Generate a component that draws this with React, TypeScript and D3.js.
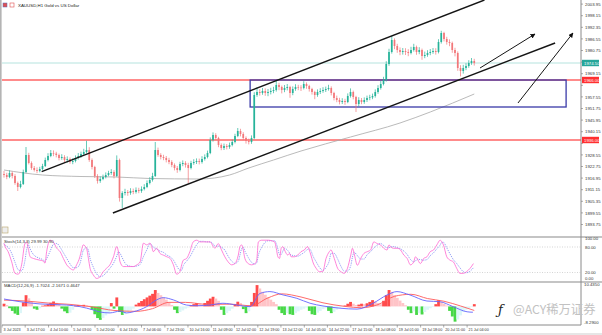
import React from "react";
import * as d3 from "d3";

const W = 602;
const H = 335;

// ---------- price data (H1 candles, sampled) ----------
const firstOpen = 1919;
const closes = [
  1918.5,1917.5,1919.5,1918,1914.5,1912.5,1914,1920,1928.5,1924.5,
  1922,1921,1920.5,1921.5,1923,1926,1928,1929.5,1929.2,1928.5,
  1927,1927.5,1926,1926.5,1925,1925.5,1927,1928,1929,1930,
  1931,1926,1922.5,1918,1915.5,1916.5,1917.5,1918.5,1919.5,1920,
  1918,1926,1907,1909.5,1910,1909.5,1910.5,1910,1911,1910.5,
  1911.5,1912.5,1914.5,1916,1918,1931,1928.5,1927.5,1927,1926,
  1925,1923.5,1922,1921,1924,1924.5,1923.5,1922,1924.5,1925,
  1925.5,1925,1926.5,1927.5,1929.5,1936,1938.5,1937,1933.5,1932,
  1933,1932.5,1933.5,1935,1938,1940.5,1939,1937,1935.5,1935,
  1937,1958.5,1960,1959.5,1960.5,1959.5,1960,1960.5,1961,1963.5,
  1962.5,1961,1962,1962.5,1959.5,1961.5,1962.5,1962.2,1962,1964,
  1963,1961.5,1960,1958.5,1960,1960.5,1961,1961.5,1962,1959.5,
  1957,1956,1955,1955.5,1955,1958,1960,1957.5,1954,1956,
  1955,1956,1957,1957.3,1958,1960,1962,1964,1966,1974,
  1980,1986,1983,1981,1980,1980.5,1980,1979.5,1981,1982.5,
  1980,1981,1978,1978.5,1979.5,1980,1980.5,1980,1985,1989.5,
  1986.5,1985,1984.5,1981,1979.5,1972,1970.5,1972,1973,1974.5,
  1975.5,1974.5,
];
const highs = [
  1920.5,1919.6,1920.8,1920.2,1918.9,1915.2,1915.6,1921.2,1932.5,1929.6,
  1925.3,1923.0,1922.3,1922.6,1924.1,1927.2,1929.4,1931.0,1930.8,1930.1,
  1929.2,1928.9,1928.4,1927.8,1927.3,1926.9,1928.3,1929.5,1930.2,1931.6,
  1935.6,1932.4,1926.8,1923.1,1918.9,1917.8,1918.7,1919.8,1920.6,1921.4,
  1920.9,1928.3,1926.7,1910.4,1911.6,1911.0,1911.9,1911.7,1912.3,1912.1,
  1912.8,1913.9,1915.8,1917.4,1919.6,1935.0,1932.2,1929.4,1928.6,1928.0,
  1927.1,1925.9,1924.3,1923.0,1925.1,1925.8,1925.4,1924.6,1925.6,1926.4,
  1926.8,1926.7,1927.9,1928.8,1930.7,1937.3,1939.8,1939.4,1937.6,1934.3,
  1934.2,1934.0,1934.7,1936.2,1939.1,1942.0,1941.6,1939.9,1937.8,1936.7,
  1938.3,1959.9,1962.3,1961.4,1962.0,1961.8,1961.5,1962.1,1962.6,1965.8,
  1964.6,1963.2,1963.5,1964.0,1963.1,1962.8,1963.9,1963.6,1963.4,1965.4,
  1964.8,1963.6,1962.1,1960.6,1961.3,1961.9,1962.4,1962.7,1963.6,1962.8,
  1960.1,1958.2,1957.1,1956.9,1956.6,1959.3,1961.8,1960.7,1958.1,1957.4,
  1957.0,1957.3,1958.2,1958.6,1959.2,1961.3,1963.4,1965.5,1967.6,1975.4,
  1981.6,1988.0,1986.8,1984.1,1982.3,1982.0,1981.9,1981.4,1982.6,1984.1,
  1983.2,1982.4,1981.7,1980.2,1980.9,1981.5,1982.0,1981.9,1986.4,1990.6,
  1990.1,1987.6,1986.3,1985.2,1982.1,1980.3,1973.4,1973.6,1974.4,1975.9,
  1977.0,1976.6,
];
const lows = [
  1917.2,1916.4,1916.9,1916.8,1913.6,1910.5,1911.8,1913.5,1919.4,1923.8,
  1921.1,1920.2,1919.4,1919.8,1920.9,1922.5,1925.3,1927.4,1927.9,1927.3,
  1925.8,1926.1,1925.0,1924.7,1924.1,1923.9,1924.8,1926.2,1927.1,1928.4,
  1929.3,1925.1,1921.3,1917.0,1914.2,1914.6,1915.9,1916.8,1917.9,1918.6,
  1916.8,1917.4,1905.2,1902.0,1908.3,1908.1,1908.6,1908.9,1909.2,1909.4,
  1909.6,1910.8,1911.9,1913.8,1915.2,1917.5,1927.6,1926.3,1925.9,1924.8,
  1923.9,1922.4,1920.8,1919.6,1920.3,1922.9,1922.2,1914.5,1921.3,1923.6,
  1924.0,1923.8,1924.2,1925.7,1926.8,1928.9,1935.2,1936.0,1932.4,1930.9,
  1931.0,1931.3,1931.6,1932.8,1934.3,1937.4,1937.8,1935.9,1934.2,1933.8,
  1934.1,1936.4,1957.6,1958.2,1958.6,1958.1,1957.9,1958.8,1959.4,1960.2,
  1960.9,1959.3,1959.9,1960.8,1957.1,1958.4,1960.6,1960.9,1960.5,1961.3,
  1961.6,1960.2,1958.7,1956.4,1957.6,1959.0,1959.6,1960.0,1960.7,1958.3,
  1955.8,1954.9,1953.8,1954.0,1953.6,1954.4,1957.2,1956.3,1950.0,1952.8,
  1953.9,1954.1,1955.0,1955.9,1956.4,1957.2,1959.1,1961.2,1963.3,1965.2,
  1973.1,1979.2,1981.4,1979.6,1978.4,1978.7,1978.5,1977.9,1978.8,1980.2,
  1978.6,1978.9,1976.1,1976.9,1977.6,1978.4,1979.1,1978.7,1979.3,1984.2,
  1985.3,1983.7,1982.9,1979.6,1977.8,1970.6,1967.8,1969.2,1970.9,1972.1,
  1973.6,1973.2,
];

// slow moving average: [bar index, price]
const maPoints = [
  [0, 1921], [14, 1918.5], [28, 1917.75], [41, 1917.5], [53, 1916.75],
  [71, 1916.5], [82, 1918.5], [89, 1922], [98, 1926], [108, 1930.5],
  [126, 1937.5], [144, 1944.5], [155, 1950], [171, 1959],
];

// drawn objects (bar index, price)
const resistanceLevels = [1966, 1936];
const zoneBox = { i0: 89.5, i1: 204.4, p0: 1966, p1: 1952.5 };
const channelUpper = [[13.7, 1920.15], [174.7, 2006]];
const channelLower = [[39.6, 1899.5], [200.4, 1984.5]];
const arrowLines = [
  [[173.1, 1972], [193.1, 1989]],
  [[186.9, 1954.5], [206.9, 1989.5]],
];

const priceTicks = [
  2003.95, 1998.15, 1992.35, 1986.55, 1980.75, 1974.95, 1969.15, 1963.35,
  1957.55, 1951.75, 1945.95, 1940.15, 1934.35, 1928.55, 1922.75, 1916.95,
  1911.15, 1905.35, 1899.55, 1893.75,
];

const timeLabels = [
  "3 Jul 2023", "3 Jul 17:00", "4 Jul 10:00", "5 Jul 03:00", "5 Jul 20:00",
  "6 Jul 13:00", "7 Jul 06:00", "7 Jul 23:00", "10 Jul 16:00", "11 Jul 09:00",
  "12 Jul 02:00", "12 Jul 19:00", "13 Jul 12:00", "14 Jul 05:00", "14 Jul 22:00",
  "17 Jul 15:00", "18 Jul 08:00", "19 Jul 01:00", "19 Jul 18:00", "20 Jul 11:00",
  "21 Jul 04:00",
];
const timeTickIdx = [
  -0.7, 7.7, 16.2, 24.6, 33.1, 41.5, 50, 58.5, 66.9, 75.4, 83.8, 92.3, 100.7,
  109.2, 117.6, 126.1, 134.5, 143, 151.5, 159.9, 168.4,
];

// Stochastic %K: [bar index, value]
const stochK = [
  [0, 88], [0.4, 81], [1.5, 69], [2.8, 45], [4, 18], [5.2, 16], [6.4, 38], [7.6, 88],
  [8.2, 92], [8.8, 77], [9.5, 57], [10.7, 53], [13.1, 49], [14.3, 47], [14.9, 42],
  [15.5, 69], [16.7, 96], [17.9, 92], [19.2, 77], [20.4, 69], [21.6, 53], [22.8, 38],
  [24, 30], [25.2, 26], [26.4, 38], [27.6, 57], [28.2, 73], [28.8, 85], [30, 77],
  [30.7, 53], [31.3, 30], [32.5, 14], [33.7, 6], [34.9, 10], [36.1, 22], [37.3, 30],
  [38.5, 38], [39.8, 57], [41, 81], [41.6, 69], [42.2, 45], [43.4, 34], [44.6, 34],
  [47, 34], [48.3, 38], [49.5, 45], [50.7, 89], [51.9, 85], [53.1, 89], [53.7, 81],
  [54.3, 69], [55.5, 77], [56.7, 65], [57.9, 61], [59.2, 57], [60.4, 53], [61.6, 38],
  [62.8, 16], [64, 22], [64.6, 38], [65.2, 49], [66.4, 53], [67.6, 69], [68.8, 92],
  [70.1, 96], [71.3, 92], [72.5, 92], [73.7, 92], [74.9, 92], [75.5, 88], [76.1, 81],
  [76.7, 77], [77.9, 88], [79.1, 73], [80.3, 57], [81.5, 45], [82.8, 38], [84, 41],
  [85.2, 61], [85.8, 81], [86.4, 85], [87, 73], [87.6, 53], [88.8, 41], [90, 38],
  [91.3, 41], [91.9, 49], [92.5, 92], [93.7, 96], [96, 96], [98.4, 92], [99, 77],
  [99.6, 57], [100.2, 53], [100.8, 77], [101.4, 81], [102, 73], [103.2, 61],
  [103.8, 65], [104.4, 57], [105.6, 57], [106.8, 61], [108, 69], [109.2, 73],
  [110.4, 81], [111, 73], [111.6, 61], [112.3, 45], [113.5, 30], [114.7, 22],
  [115.9, 22], [117.1, 53], [118.3, 69], [118.9, 73], [120.1, 53], [121.3, 30],
  [122.5, 22], [123.7, 18], [124.9, 30], [126.1, 61], [126.7, 77], [127.3, 65],
  [128.5, 37], [129.7, 53], [130.9, 65], [132.1, 69], [133.3, 73], [134.5, 92],
  [135.7, 88], [136.9, 85], [138.1, 77], [139.3, 73], [140, 85], [140.5, 81],
  [141.7, 77], [143, 77], [144.2, 73], [145.4, 61], [146.6, 53], [147.8, 38],
  [149, 45], [149.6, 57], [150.2, 53], [151.4, 41], [152.6, 53], [153.8, 57],
  [155, 69], [156.2, 73], [157.4, 85], [158.6, 96], [159.2, 92], [159.8, 85],
  [161, 57], [162.2, 49], [163.4, 45], [164.6, 30], [165.8, 18], [167, 18],
  [168.2, 22], [169.5, 30], [170.7, 41],
];

// MACD histogram per bar
const macdHist = [
  1.2, 0.6, -0.8, -2.0, -3.2, -3.8, -3.0, 1.8, 5.0, 3.6,
  2.0, -1.0, -1.5, -0.8, 0.3, 0.5, 1.0, 1.6, 2.2, 1.6,
  1.0, -1.0, -2.2, -3.0, -2.8, -1.5, 0.4, 0.6, 0.5, 0.7,
  0.5, 0.3, -1.5, -3.5, -5.2, -6.0, -5.2, -4.0, -3.0, 1.5,
  -1.0, 4.0, -2.5, -3.8, -3.5, -2.5, -1.8, -1.0, 0.8, 1.6,
  2.4, 3.2, 4.0, 4.8, 5.6, 7.3, 6.0, 5.0, 4.0, 3.0,
  1.8, 0.6, -1.5, -3.0, -2.5, -1.8, -1.0, -0.5, 0.5, 1.0,
  1.5, 1.0, 0.6, 1.5, 2.5, 3.5, 4.3, 3.5, 2.5, -1.5,
  -3.8, -3.0, -2.0, -1.0, 0.8, 2.1, 1.5, -1.2, -3.0, -2.2,
  2.0, 6.0, 9.5, 8.0, 6.5, 5.2, 4.0, 3.0, 2.0, 1.0,
  -1.5, -3.0, -3.8, -3.0, -3.5, -3.8, -3.0, -2.2, -1.5, -1.0,
  -0.5, -2.0, -3.5, -3.8, -2.8, -2.0, -1.2, -0.8, -2.0, -3.0,
  -2.4, -1.5, -0.6, -0.3, 0.4, 1.2, 2.0, 1.2, 0.6, 0.8,
  1.2, 1.0, 1.4, 2.0, 2.8, 2.2, 1.5, 1.0, 2.5, 5.0,
  7.3, 6.5, 5.0, 3.8, 2.6, 1.5, 0.5, -1.5, -3.0, -2.2,
  -3.8, -3.0, -3.6, -2.5, -1.5, -0.8, -0.3, 1.0, 2.8, 2.0,
  1.2, 0.4, -2.0, -4.5, -6.8, -5.8, -4.0, -2.5, -1.5, -0.8,
  -0.3, 1.0,
];
const macdMain = [
  [0, 3.3], [5.8, 2.1], [13.1, 1.1], [22.8, 0.6], [27.6, -0.1], [32.5, -1.6],
  [34.9, -2.5], [38.5, -2.9], [42.2, -2.1], [44.6, -2.9], [47, -2.4], [51.9, -0.1],
  [55.5, 2.9], [57.9, 3.9], [61.6, 2.9], [66.4, 0.6], [70.2, 0.3], [74.9, 0.6],
  [79.6, 1.4], [84.7, 0.6], [89.5, -0.1], [93.1, 5.8], [96.7, 6.6], [101.5, 5.1],
  [106.5, 3.6], [111.3, 1.4], [116, 0.2], [122.2, -0.8], [128.4, -1.2], [134.2, 1.4],
  [139.3, 5.1], [142.9, 6.6], [147.6, 5.1], [153.8, 2.4], [158.5, 2.1], [163.3, -0.1],
  [168.4, -2.4], [170.5, -2.6],
];
const macdSignal = [
  [0, 2.8], [8, 2.4], [16, 1.5], [24, 0.9], [32, -0.2], [40, -1.8], [48, -2.2],
  [54, -1.0], [60, 1.8], [66, 1.8], [74, 0.9], [82, 1.0], [90, 0.3], [96, 3.8],
  [101, 5.6], [108, 4.2], [116, 1.6], [124, 0.0], [130, -0.6], [136, 0.8],
  [142, 4.5], [148, 5.4], [154, 3.5], [160, 2.3], [166, 0.2], [171, -1.8],
];

const FONT = "'Liberation Sans', Arial, sans-serif";
const UP = "#26b39a";
const DOWN = "#f2777a";

export default function App() {
  const x = d3.scaleLinear().domain([0, 210]).range([4, 581.5]);
  const y = d3.scaleLinear().domain([1891, 2006]).range([230, 0]);
  const yS = d3.scaleLinear().domain([0, 100]).range([281, 238.5]);
  const yM = d3.scaleLinear().domain([-8.29, 10.435]).range([325, 283]);

  const opens = [firstOpen, ...closes.slice(0, -1)];
  const step = x(1) - x(0);
  const bodyW = 1.7;

  const maLine = d3
    .line<number[]>()
    .x((d) => x(d[0]))
    .y((d) => y(d[1]))
    .curve(d3.curveMonotoneX);
  const stLine = d3
    .line<number[]>()
    .x((d) => x(d[0]))
    .y((d) => yS(d[1]))
    .curve(d3.curveMonotoneX);
  const mLine = d3
    .line<number[]>()
    .x((d) => x(d[0]))
    .y((d) => yM(d[1]))
    .curve(d3.curveMonotoneX);

  // %D signal = 3-sample mean of %K
  const stochD = stochK.map((d, i) => {
    const w = stochK.slice(Math.max(0, i - 2), i + 1);
    return [d[0], d3.mean(w, (v) => v[1]) as number];
  });

  const lastClose = closes[closes.length - 1];
  const axisX = 581;

  // labels covered by the coloured price tags are not drawn
  const tagYs = [...resistanceLevels, lastClose].map((p) => y(p));
  const visibleTicks = priceTicks.filter((p) => tagYs.every((ty) => Math.abs(y(p) - ty) > 5.5));

  const histColor = (v: number, i: number) => {
    const prev = i > 0 ? macdHist[i - 1] : v;
    if (v >= 0) return v >= prev ? "#ff4b4b" : "#ffc4c8";
    return v <= prev ? "#47d847" : "#dcf6f8";
  };

  return (
    <svg
      width={W}
      height={H}
      style={{ position: "absolute", left: 0, top: 0, background: "#fff" }}
      fontFamily={FONT}
    >
      <defs>
        <clipPath id="mainClip">
          <rect x={2} y={0} width={axisX - 2} height={237} />
        </clipPath>
        <clipPath id="subClip">
          <rect x={2} y={237} width={axisX - 2} height={88} />
        </clipPath>
        <marker
          id="arrowHead"
          viewBox="0 0 10 10"
          refX={9}
          refY={5}
          markerWidth={5}
          markerHeight={5}
          orient="auto"
        >
          <path d="M0,0 L10,5 L0,10 Z" fill="#111" />
        </marker>
      </defs>

      <rect x={0} y={0} width={W} height={H} fill="#fff" />

      {/* ---------- main panel ---------- */}
      <g clipPath="url(#mainClip)">
        <line x1={2} x2={axisX} y1={y(lastClose)} y2={y(lastClose)} stroke="#b5e3de" strokeWidth={1} />
        {resistanceLevels.map((p) => (
          <line key={p} x1={2} x2={axisX} y1={y(p)} y2={y(p)} stroke="#ff6464" strokeWidth={1.3} />
        ))}
        <path d={maLine(maPoints) || ""} fill="none" stroke="#a8a8a8" strokeWidth={0.8} />
        <rect
          x={x(zoneBox.i0)}
          y={y(zoneBox.p0)}
          width={x(zoneBox.i1) - x(zoneBox.i0)}
          height={y(zoneBox.p1) - y(zoneBox.p0)}
          fill="none"
          stroke="#3a3aa8"
          strokeWidth={1.3}
        />
        {closes.map((c, i) => {
          const o = opens[i];
          const col = c >= o ? UP : DOWN;
          const cx = x(i);
          const top = y(Math.max(o, c));
          const bot = y(Math.min(o, c));
          return (
            <g key={i}>
              <line x1={cx} x2={cx} y1={y(highs[i])} y2={y(lows[i])} stroke={col} strokeWidth={0.7} />
              <rect x={cx - bodyW / 2} y={top} width={bodyW} height={Math.max(0.6, bot - top)} fill={col} />
            </g>
          );
        })}
        {[channelUpper, channelLower].map((l, k) => (
          <line
            key={k}
            x1={x(l[0][0])}
            y1={y(l[0][1])}
            x2={x(l[1][0])}
            y2={y(l[1][1])}
            stroke="#151515"
            strokeWidth={1.4}
          />
        ))}
        {arrowLines.map((l, k) => (
          <line
            key={k}
            x1={x(l[0][0])}
            y1={y(l[0][1])}
            x2={x(l[1][0])}
            y2={y(l[1][1])}
            stroke="#151515"
            strokeWidth={1}
            markerEnd="url(#arrowHead)"
          />
        ))}
      </g>

      {/* title */}
      <rect x={3} y={3} width={4} height={4} fill="#e05050" stroke="#5070c0" strokeWidth={0.5} />
      <rect x={10} y={3} width={4} height={4} fill="#fff" stroke="#e05050" strokeWidth={0.6} />
      <text x={18} y={7} fontSize={4.4} fill="#222">
        XAUUSD,H1  Gold vs US Dollar
      </text>

      {/* price axis */}
      <line x1={axisX} x2={axisX} y1={0} y2={325} stroke="#8a8a8a" strokeWidth={1} />
      {priceTicks.map((p) => (
        <line key={"t" + p} x1={axisX} x2={axisX + 2} y1={y(p)} y2={y(p)} stroke="#777" strokeWidth={0.6} />
      ))}
      {visibleTicks.map((p) => (
        <text key={p} x={axisX + 4} y={y(p) + 1.6} fontSize={4.3} fill="#333">
          {p.toFixed(2)}
        </text>
      ))}
      {resistanceLevels.map((p) => (
        <g key={"l" + p}>
          <rect x={axisX + 1} y={y(p) - 3.2} width={17} height={6.4} fill="#ff3030" />
          <text x={axisX + 3} y={y(p) + 1.6} fontSize={4.3} fill="#fff">
            {p.toFixed(2)}
          </text>
        </g>
      ))}
      <rect x={axisX + 1} y={y(lastClose) - 3.2} width={17} height={6.4} fill="#26a69a" />
      <text x={axisX + 3} y={y(lastClose) + 1.6} fontSize={4.3} fill="#fff">
        {lastClose.toFixed(2)}
      </text>

      {/* one-click box */}
      <rect x={2} y={227} width={6} height={6} fill="#eeeeee" stroke="#b8a468" strokeWidth={0.6} />

      {/* panel separators */}
      <line x1={2} x2={W} y1={237} y2={237} stroke="#8a8a8a" strokeWidth={1.2} />
      <line x1={2} x2={W} y1={282} y2={282} stroke="#8a8a8a" strokeWidth={1.2} />

      {/* ---------- stochastic ---------- */}
      <g clipPath="url(#subClip)">
        {[80, 20].map((v) => (
          <line key={v} x1={2} x2={axisX} y1={yS(v)} y2={yS(v)} stroke="#b8b8b8" strokeWidth={0.6} strokeDasharray="1,1.5" />
        ))}
        <path d={stLine(stochD) || ""} fill="none" stroke="#7a86f4" strokeWidth={0.8} strokeDasharray="1.2,1" />
        <path d={stLine(stochK) || ""} fill="none" stroke="#ff66d0" strokeWidth={0.8} />
      </g>
      <text x={4} y={242.5} fontSize={4.3} fill="#333">
        Stoch(14,3,3) 29.99 30.90
      </text>
      {[100, 80, 20, 0].map((v) => (
        <text key={v} x={axisX + 4} y={Math.min(279.5, yS(v) + 1.6)} fontSize={4.3} fill="#333">
          {v.toFixed(2)}
        </text>
      ))}

      {/* ---------- MACD ---------- */}
      <g clipPath="url(#subClip)">
        {macdHist.map((v, i) => (
          <rect
            key={i}
            x={x(i) - step / 2}
            y={Math.min(yM(0), yM(v))}
            width={step + 0.1}
            height={Math.abs(yM(v) - yM(0))}
            fill={histColor(v, i)}
          />
        ))}
        <path d={mLine(macdSignal) || ""} fill="none" stroke="#ff5a5a" strokeWidth={0.9} />
        <path d={mLine(macdMain) || ""} fill="none" stroke="#6464ff" strokeWidth={0.9} />
      </g>
      <text x={4} y={287} fontSize={4.3} fill="#333">
        MACD(12,26,9) -1.7024 -2.1671 0.4647
      </text>
      <text x={axisX + 3} y={285.5} fontSize={4.3} fill="#333">
        10.4350
      </text>
      <text x={axisX + 3} y={324} fontSize={4.3} fill="#333">
        -8.2900
      </text>

      {/* watermark */}
      <text x={498} y={314} fontSize={13} fontStyle="italic" fill="#222" fontFamily="'DejaVu Serif', serif">
        ƒ
      </text>
      <text x={513} y={314} fontSize={12.3} fill="#c2c2c2" fontFamily="'Noto Sans CJK SC', 'Noto Sans', sans-serif">
        @ACY稀万证券
      </text>

      {/* time axis */}
      <line x1={2} x2={axisX} y1={325} y2={325} stroke="#8a8a8a" strokeWidth={1} />
      {timeLabels.map((t, k) => {
        const tx = x(timeTickIdx[k]);
        return (
          <g key={t}>
            <line x1={tx} x2={tx} y1={325} y2={327.5} stroke="#777" strokeWidth={0.6} />
            <text x={tx + 1.5} y={331} fontSize={3.7} fill="#333">
              {t}
            </text>
          </g>
        );
      })}

      {/* window borders */}
      <rect x={0} y={0} width={1.6} height={H} fill="#b4b4b4" />
      <rect x={0} y={333} width={W} height={2} fill="#e6e6e6" />
    </svg>
  );
}
